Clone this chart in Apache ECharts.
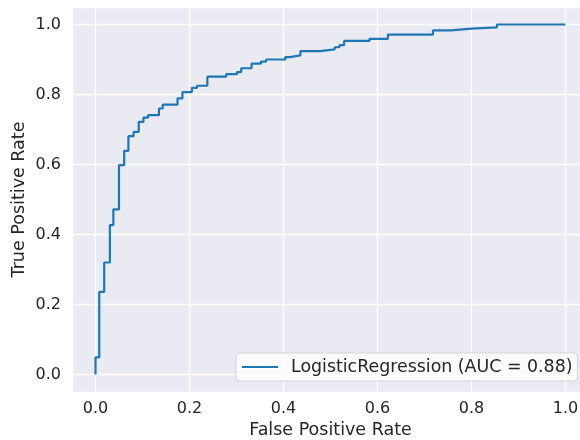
<!DOCTYPE html>
<html>
<head>
<meta charset="utf-8">
<script src="https://cdn.jsdelivr.net/npm/echarts@6/dist/echarts.min.js"></script>
<style>
  html, body { margin: 0; padding: 0; background: #fff; }
  #myChart { width: 580px; height: 440px; }
</style>
</head>
<body>
<div id="myChart"></div>
<script>
  // ROC points (false positive rate, true positive rate)
  const fpr = [0, 0, 0.008, 0.0185, 0.0306, 0.038, 0.050, 0.061, 0.070, 0.081,
    0.092, 0.102, 0.112, 0.135, 0.143, 0.1745, 0.185, 0.205, 0.216, 0.238,
    0.278, 0.301, 0.310, 0.332, 0.352, 0.363, 0.404, 0.414, 0.436, 0.478,
    0.509, 0.519, 0.529, 0.583, 0.622, 0.718, 0.757, 0.800, 0.854, 1.0];
  const tpr = [0, 0.049, 0.236, 0.320, 0.427, 0.472, 0.598, 0.639, 0.681, 0.693,
    0.722, 0.734, 0.741, 0.760, 0.771, 0.789, 0.807, 0.819, 0.825, 0.851,
    0.858, 0.864, 0.875, 0.888, 0.894, 0.900, 0.907, 0.912, 0.924, 0.929,
    0.935, 0.941, 0.953, 0.959, 0.971, 0.983, 0.988, 0.992, 1.0, 1.0];
  const seriesName = 'LogisticRegression (AUC = 0.88)';
  const axisNames = ['False Positive Rate', 'True Positive Rate'];

  const textColor = '#262626';
  const font = 'DejaVu Sans';

  // only show labels on the 0.2 steps, hide the padded ends
  function tickLabel(v) {
    if (Math.abs(v * 5 - Math.round(v * 5)) > 1e-6) return '';
    return v.toFixed(1);
  }

  function makeAxis(name, isX) {
    return {
      type: 'value',
      min: -0.05,
      max: 1.05,
      splitNumber: 5,
      name: name,
      nameLocation: 'middle',
      nameGap: isX ? 29 : 44,
      nameMoveOverlap: false,
      nameTextStyle: { color: textColor, fontSize: 17.5, fontFamily: font },
      axisLine: { show: false },
      axisTick: { show: false },
      axisLabel: {
        color: textColor,
        fontSize: 16,
        fontFamily: font,
        margin: isX ? 9 : 11,
        formatter: tickLabel
      },
      splitLine: { show: true, lineStyle: { color: '#ffffff', width: 1.4 } }
    };
  }

  let myChart = echarts.init(document.getElementById('myChart'));
  myChart.setOption({
    animation: false,
    backgroundColor: '#ffffff',
    grid: {
      left: 72,
      top: 7,
      width: 517,
      height: 385,
      show: true,
      backgroundColor: '#EAEAF2',
      borderWidth: 0,
      containLabel: false,
      outerBoundsMode: 'none'
    },
    legend: {
      left: 236,
      top: 353,
      data: [{ name: seriesName, icon: 'rect' }],
      itemWidth: 36,
      itemHeight: 2.2,
      padding: [4, 5, 4, 6],
      backgroundColor: 'rgba(255,255,255,0.8)',
      borderColor: '#d6d6d6',
      borderWidth: 1,
      borderRadius: 4,
      textStyle: {
        color: textColor,
        fontSize: 17.4,
        fontFamily: font,
        lineHeight: 20,
        padding: [0, 0, 0, 8]
      }
    },
    xAxis: makeAxis(axisNames[0], true),
    yAxis: makeAxis(axisNames[1], false),
    series: [
      {
        name: seriesName,
        type: 'line',
        step: 'end',
        symbol: 'none',
        data: fpr.map((x, i) => [x, tpr[i]]),
        lineStyle: { color: '#1f77b4', width: 2.2 },
        itemStyle: { color: '#1f77b4' }
      }
    ]
  });
</script>
</body>
</html>
